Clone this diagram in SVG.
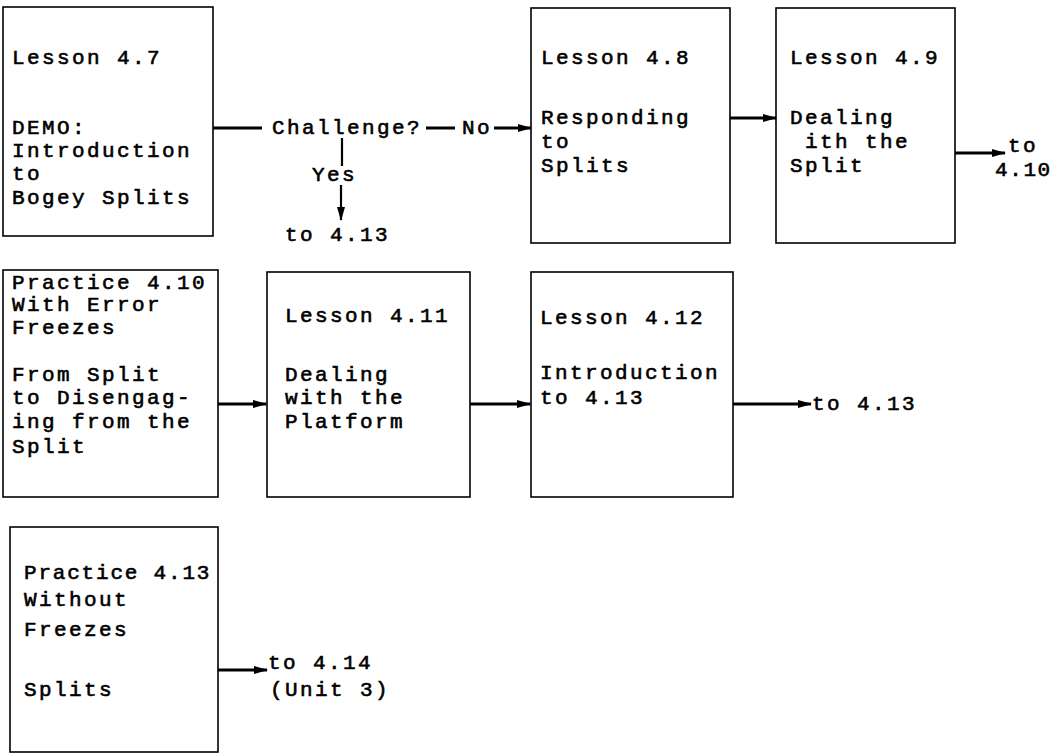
<svg xmlns="http://www.w3.org/2000/svg" width="1059" height="756" viewBox="0 0 1059 756">
<defs>
<style>
text{font-family:"Liberation Mono","Courier New",monospace;font-size:21px;letter-spacing:2.4px;fill:#000;stroke:#000;stroke-width:0.6}
.box{fill:none;stroke:#000;stroke-width:1.6}
.edge{stroke:#000;stroke-width:3;fill:none}
.thin{stroke:#000;stroke-width:2.2;fill:none}
</style>
<marker id="ah" markerWidth="14" markerHeight="10" refX="13" refY="5" orient="auto" markerUnits="userSpaceOnUse">
<path d="M0,1 L14,5 L0,9 Z" fill="#000"/>
</marker>
</defs>
<rect width="1059" height="756" fill="#fff"/>

<g id="n47">
<rect class="box" x="3" y="7" width="210" height="229"/>
<text x="12" y="64">Lesson 4.7</text>
<text x="12" y="134">DEMO:</text>
<text x="12" y="157">Introduction</text>
<text x="12" y="180">to</text>
<text x="12" y="204">Bogey Splits</text>
</g>

<g id="challenge">
<text x="272" y="134">Challenge?</text>
<text x="462" y="134">No</text>
<text x="312" y="181">Yes</text>
<text x="285" y="241">to 4.13</text>
</g>

<g id="n48">
<rect class="box" x="531" y="8" width="199" height="235"/>
<text x="541" y="64">Lesson 4.8</text>
<text x="541" y="124">Responding</text>
<text x="541" y="148">to</text>
<text x="541" y="172">Splits</text>
</g>

<g id="n49">
<rect class="box" x="776" y="8" width="179" height="235"/>
<text x="790" y="64">Lesson 4.9</text>
<text x="790" y="124">Dealing</text>
<text x="790" y="148" xml:space="preserve"> ith the</text>
<text x="790" y="172">Split</text>
</g>

<g id="to410">
<text x="1008" y="152">to</text>
<text x="995" y="176" style="letter-spacing:1.6px">4.10</text>
</g>

<g id="n410">
<rect class="box" x="3" y="270" width="215" height="227"/>
<text x="12" y="289">Practice 4.10</text>
<text x="12" y="311">With Error</text>
<text x="12" y="334">Freezes</text>
<text x="12" y="381">From Split</text>
<text x="12" y="404">to Disengag-</text>
<text x="12" y="428">ing from the</text>
<text x="12" y="453">Split</text>
</g>

<g id="n411">
<rect class="box" x="267" y="272" width="203" height="225"/>
<text x="285" y="322">Lesson 4.11</text>
<text x="285" y="381">Dealing</text>
<text x="285" y="404">with the</text>
<text x="285" y="428">Platform</text>
</g>

<g id="n412">
<rect class="box" x="531" y="272" width="202" height="225"/>
<text x="540" y="324">Lesson 4.12</text>
<text x="540" y="379">Introduction</text>
<text x="540" y="404">to 4.13</text>
</g>

<g id="to413b">
<text x="812" y="410">to 4.13</text>
</g>

<g id="n413">
<rect class="box" x="10" y="527" width="208" height="225"/>
<text x="24" y="579" style="letter-spacing:1.8px">Practice 4.13</text>
<text x="24" y="606">Without</text>
<text x="24" y="636">Freezes</text>
<text x="24" y="696">Splits</text>
</g>

<g id="to414">
<text x="268" y="669">to 4.14</text>
<text x="270" y="696">(Unit 3)</text>
</g>

<g id="connectors">
<line class="edge" x1="213" y1="128" x2="262" y2="128"/>
<line class="edge" x1="426" y1="128" x2="455" y2="128"/>
<line class="edge" x1="494" y1="128" x2="531" y2="128" marker-end="url(#ah)"/>
<line class="thin" x1="342" y1="138" x2="342" y2="166"/>
<line class="thin" x1="341" y1="185" x2="341" y2="220" marker-end="url(#ah)"/>
<line class="edge" x1="730" y1="118" x2="776" y2="118" marker-end="url(#ah)"/>
<line class="edge" x1="955" y1="153" x2="1005" y2="153" marker-end="url(#ah)"/>
<line class="edge" x1="218" y1="404" x2="266" y2="404" marker-end="url(#ah)"/>
<line class="edge" x1="470" y1="404" x2="530" y2="404" marker-end="url(#ah)"/>
<line class="edge" x1="733" y1="404" x2="811" y2="404" marker-end="url(#ah)"/>
<line class="edge" x1="218" y1="670" x2="267" y2="670" marker-end="url(#ah)"/>
</g>
</svg>
